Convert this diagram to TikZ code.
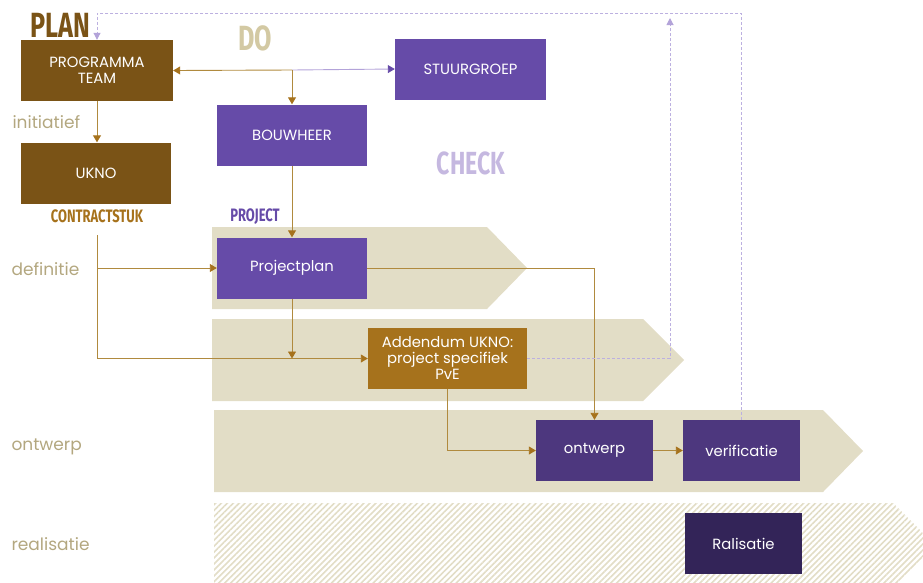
\documentclass[tikz,border=0pt]{standalone}
\usepackage{fontspec}
\setmainfont{Poppins}
\newfontfamily\headfont[FakeStretch=0.72]{Fira Sans}
\usetikzlibrary{arrows.meta,patterns.meta}
\definecolor{plandark}{HTML}{7A5316}
\definecolor{planmid}{HTML}{A6721C}
\definecolor{docolor}{HTML}{D3C9A3}
\definecolor{checkcolor}{HTML}{C5B8E0}
\definecolor{projpurple}{HTML}{664BA8}
\definecolor{ontwpurple}{HTML}{4D377E}
\definecolor{realpurple}{HTML}{332458}
\definecolor{bandcolor}{HTML}{E2DDC6}
\definecolor{linecolor}{HTML}{B08A3E}
\definecolor{lilac}{HTML}{B3A3D9}
\definecolor{dashcolor}{HTML}{BCB0E0}
\definecolor{phasecolor}{HTML}{B3A77F}
\begin{document}
\begin{tikzpicture}[x=1pt,y=-1pt,
  box/.style={minimum width=150pt,minimum height=61pt,inner sep=0pt,align=center,
    text=white,font=\fontsize{14.8}{16}\selectfont},
  smallbox/.style={box,minimum width=117pt},
  phase/.style={anchor=west,text=phasecolor,font=\fontsize{17}{19}\selectfont},
  head/.style={font=\headfont\bfseries\fontsize{#1}{#1}\selectfont},
  conn/.style={draw=linecolor,line width=0.9pt,
    arrows={-{Triangle[width=8pt,length=7pt,color=planmid]}}},
  dashline/.style={draw=dashcolor,line width=1pt,dash pattern=on 3pt off 2pt,
    arrows={-{Triangle[width=7pt,length=7pt,color=lilac]}}},
  band/.style={fill=bandcolor}]
\useasboundingbox (0,0) rectangle (923,582);

% phase bands
\fill[band] (212,227) -- (487,227) -- (527,268) -- (487,309) -- (212,309) -- cycle;
\fill[band] (212,319) -- (643,319) -- (684,360) -- (643,401) -- (212,401) -- cycle;
\fill[band] (214,410) -- (823,410) -- (863,451) -- (823,492) -- (214,492) -- cycle;
\fill[pattern={Lines[angle=45,distance=4.2pt,line width=1.6pt]},pattern color=bandcolor]
  (214,503) -- (893,503) -- (935,545) -- (893,587) -- (214,587) -- cycle;

% headings
\node[head=35,text=plandark] (plan) at (60,25) {PLAN};
\node[head=35,text=docolor] (do) at (255,38) {DO};
\node[head=32,text=checkcolor] (check) at (471,163) {CHECK};
\node[head=18,text=planmid] (contract) at (97,216) {CONTRACTSTUK};
\node[head=18,text=projpurple] (project) at (255,217) {PROJECT};

% phase names
\node[phase] (initiatief) at (9,122) {initiatief};
\node[phase] (definitie) at (8,269) {definitie};
\node[phase] (ontwerpfase) at (8,447) {ontwerp};
\node[phase] (realisatie) at (8,544) {realisatie};

% boxes
\node[box,fill=plandark,minimum width=152pt] (team) at (97,70.5) {PROGRAMMA\\TEAM};
\node[box,fill=plandark] (ukno) at (96,173) {UKNO};
\node[box,fill=projpurple] (bouw) at (292,135) {BOUWHEER};
\node[box,fill=projpurple,minimum width=151pt] (stuur) at (470.5,69) {STUURGROEP};
\node[box,fill=projpurple] (pplan) at (292,268) {Projectplan};
\node[box,fill=planmid,minimum width=159pt] (add) at (447.5,358.5)
  {Addendum UKNO:\\project specifiek\\PvE};
\node[smallbox,fill=ontwpurple] (ontw) at (594.5,450.5) {ontwerp};
\node[smallbox,fill=ontwpurple] (verif) at (741.5,450.5) {verificatie};
\node[smallbox,fill=realpurple] (real) at (743.5,543.5) {Ralisatie};

% connectors
\coordinate (jn) at (292,70);
\coordinate (ks) at (97,235);
\coordinate (kd) at (97,268);
\coordinate (up) at (670,18);
\coordinate (ret) at (741.5,13);
\draw[conn] (jn) -- (team.east);
\draw[conn,draw=lilac,arrows={-{Triangle[width=8pt,length=7pt,color=projpurple]}}] (jn) -- (stuur.west);
\draw[conn] (jn) -- (bouw.north);
\draw[conn] (team.south) -- (ukno.north -| team.south);
\draw[conn] (bouw.south) -- (pplan.north);
\draw[conn] (ks) |- (add.west);
\draw[conn] (kd) -- (pplan.west);
\draw[conn] (pplan.south) -- (pplan.south |- add.west);
\draw[conn] (pplan.east) -| (ontw.north);
\draw[conn] (add.south) |- (ontw.west);
\draw[conn] (ontw) -- (verif);
\draw[dashline] (add.east) -| (up);
\draw[dashline] (verif.north) -- (ret) -| (team.north);
\end{tikzpicture}
\end{document}
